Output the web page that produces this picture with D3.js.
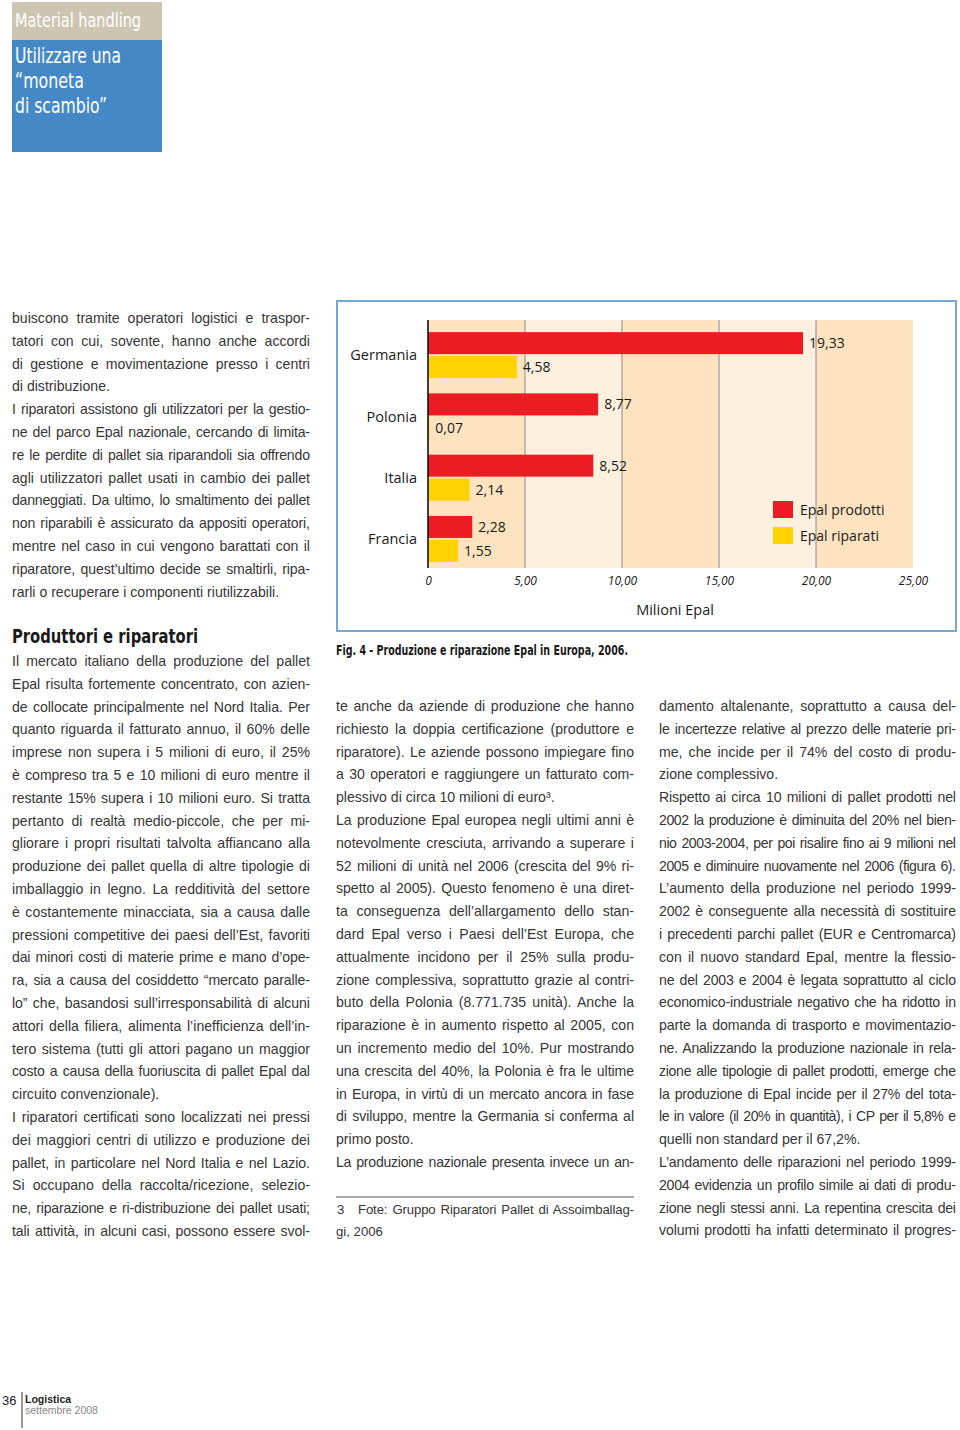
<!DOCTYPE html>
<html><head><meta charset="utf-8">
<script src="https://cdn.jsdelivr.net/npm/d3@7/dist/d3.min.js"></script>
<style>
html,body{margin:0;padding:0;background:#fff;}
svg{display:block;}
</style></head>
<body>
<script>
// ---- chart data ----
const countries = ["Germania", "Polonia", "Italia", "Francia"];
const prodotti = [19.33, 8.77, 8.52, 2.28];
const riparati = [4.58, 0.07, 2.14, 1.55];
const seriesNames = ["Epal prodotti", "Epal riparati"];
const xTicks = [0, 5, 10, 15, 20, 25];
const axisTitle = "Milioni Epal";
const caption = "Fig. 4 - Produzione e riparazione Epal in Europa, 2006.";

// ---- page text ----
const leftTop = [
 "buiscono tramite operatori logistici e traspor-",
 "tatori con cui, sovente, hanno anche accordi",
 "di gestione e movimentazione presso i centri",
 "di distribuzione.",
 "I riparatori assistono gli utilizzatori per la gestio-",
 "ne del parco Epal nazionale, cercando di limita-",
 "re le perdite di pallet sia riparandoli sia offrendo",
 "agli utilizzatori pallet usati in cambio dei pallet",
 "danneggiati. Da ultimo, lo smaltimento dei pallet",
 "non riparabili è assicurato da appositi operatori,",
 "mentre nel caso in cui vengono barattati con il",
 "riparatore, quest’ultimo decide se smaltirli, ripa-",
 "rarli o recuperare i componenti riutilizzabili."
];
const leftTopNat = [3, 12];
const heading = "Produttori e riparatori";
const leftBottom = [
 "Il mercato italiano della produzione del pallet",
 "Epal risulta fortemente concentrato, con azien-",
 "de collocate principalmente nel Nord Italia. Per",
 "quanto riguarda il fatturato annuo, il 60% delle",
 "imprese non supera i 5 milioni di euro, il 25%",
 "è compreso tra 5 e 10 milioni di euro mentre il",
 "restante 15% supera i 10 milioni euro. Si tratta",
 "pertanto di realtà medio-piccole, che per mi-",
 "gliorare i propri risultati talvolta affiancano alla",
 "produzione dei pallet quella di altre tipologie di",
 "imballaggio in legno. La redditività del settore",
 "è costantemente minacciata, sia a causa dalle",
 "pressioni competitive dei paesi dell’Est, favoriti",
 "dai minori costi di materie prime e mano d’ope-",
 "ra, sia a causa del cosiddetto “mercato paralle-",
 "lo” che, basandosi sull’irresponsabilità di alcuni",
 "attori della filiera, alimenta l’inefficienza dell’in-",
 "tero sistema (tutti gli attori pagano un maggior",
 "costo a causa della fuoriuscita di pallet Epal dal",
 "circuito convenzionale).",
 "I riparatori certificati sono localizzati nei pressi",
 "dei maggiori centri di utilizzo e produzione dei",
 "pallet, in particolare nel Nord Italia e nel Lazio.",
 "Si occupano della raccolta/ricezione, selezio-",
 "ne, riparazione e ri-distribuzione dei pallet usati;",
 "tali attività, in alcuni casi, possono essere svol-"
];
const leftBottomNat = [19];
const midCol = [
 "te anche da aziende di produzione che hanno",
 "richiesto la doppia certificazione (produttore e",
 "riparatore). Le aziende possono impiegare fino",
 "a 30 operatori e raggiungere un fatturato com-",
 "plessivo di circa 10 milioni di euro³.",
 "La produzione Epal europea negli ultimi anni è",
 "notevolmente cresciuta, arrivando a superare i",
 "52 milioni di unità nel 2006 (crescita del 9% ri-",
 "spetto al 2005). Questo fenomeno è una diret-",
 "ta conseguenza dell’allargamento dello stan-",
 "dard Epal verso i Paesi dell’Est Europa, che",
 "attualmente incidono per il 25% sulla produ-",
 "zione complessiva, soprattutto grazie al contri-",
 "buto della Polonia (8.771.735 unità). Anche la",
 "riparazione è in aumento rispetto al 2005, con",
 "un incremento medio del 10%. Pur mostrando",
 "una crescita del 40%, la Polonia è fra le ultime",
 "in Europa, in virtù di un mercato ancora in fase",
 "di sviluppo, mentre la Germania si conferma al",
 "primo posto.",
 "La produzione nazionale presenta invece un an-"
];
const midColNat = [4, 19];
const rightCol = [
 "damento altalenante, soprattutto a causa del-",
 "le incertezze relative al prezzo delle materie pri-",
 "me, che incide per il 74% del costo di produ-",
 "zione complessivo.",
 "Rispetto ai circa 10 milioni di pallet prodotti nel",
 "2002 la produzione è diminuita del 20% nel bien-",
 "nio 2003-2004, per poi risalire fino ai 9 milioni nel",
 "2005 e diminuire nuovamente nel 2006 (figura 6).",
 "L’aumento della produzione nel periodo 1999-",
 "2002 è conseguente alla necessità di sostituire",
 "i precedenti parchi pallet (EUR e Centromarca)",
 "con il nuovo standard Epal, mentre la flessio-",
 "ne del 2003 e 2004 è legata soprattutto al ciclo",
 "economico-industriale negativo che ha ridotto in",
 "parte la domanda di trasporto e movimentazio-",
 "ne. Analizzando la produzione nazionale in rela-",
 "zione alle tipologie di pallet prodotti, emerge che",
 "la produzione di Epal incide per il 27% del tota-",
 "le in valore (il 20% in quantità), i CP per il 5,8% e",
 "quelli non standard per il 67,2%.",
 "L’andamento delle riparazioni nel periodo 1999-",
 "2004 evidenzia un profilo simile ai dati di produ-",
 "zione negli stessi anni. La repentina crescita dei",
 "volumi prodotti ha infatti determinato il progres-"
];
const rightColNat = [3, 19];
const footnote = ["Fote: Gruppo Riparatori Pallet di Assoimballag-", "gi, 2006"];

const W = 960, H = 1430;
const svg = d3.select("body").append("svg").attr("width", W).attr("height", H);
svg.append("rect").attr("width", W).attr("height", H).attr("fill", "#fff");

const bodyFont = "'Liberation Sans', Arial, Helvetica, sans-serif";
const narrowFont = "'Liberation Sans Narrow', 'Arial Narrow', 'DejaVu Sans Condensed', sans-serif";
const chartFont = "'Open Sans', 'Noto Sans', sans-serif";
const textColor = "#363636";
const LH = 22.8;

// ---- header ----
svg.append("rect").attr("x", 12).attr("y", 2).attr("width", 150).attr("height", 38).attr("fill", "#cdc5b2");
svg.append("rect").attr("x", 12).attr("y", 40).attr("width", 150).attr("height", 112).attr("fill", "#4588c6");
svg.append("text").attr("x", 15).attr("y", 27).attr("font-family", narrowFont).attr("font-size", 20)
  .attr("fill", "#fff").attr("textLength", 126).attr("lengthAdjust", "spacingAndGlyphs").text("Material handling");
const titleLines = [["Utilizzare una", 106], ["“moneta", 69], ["di scambio”", 92]];
titleLines.forEach((t, i) => {
  svg.append("text").attr("x", 15).attr("y", 63 + i * 25).attr("font-family", narrowFont).attr("font-size", 22)
    .attr("fill", "#fff").attr("textLength", t[1]).attr("lengthAdjust", "spacingAndGlyphs").text(t[0]);
});

// ---- justified columns ----
function justify(t, s, width) {
  const w = t.node().getComputedTextLength();
  const gaps = s.split(" ").length - 1;
  const minW = gaps * 1.5;
  if (w + minW > width) {
    // tighten letters a little, keep small word spacing
    const ls = (width - w - minW) / (s.length - 1);
    t.attr("letter-spacing", ls.toFixed(3)).attr("word-spacing", 1.5);
  } else if (gaps > 0) {
    t.attr("word-spacing", ((width - w) / gaps).toFixed(3));
  }
}
function column(lines, nat, x, y0, width) {
  const g = svg.append("g");
  lines.forEach((s, i) => {
    const t = g.append("text").attr("x", x).attr("y", y0 + i * LH)
      .attr("font-family", bodyFont).attr("font-size", 14.1).attr("fill", textColor).text(s);
    if (nat.indexOf(i) < 0) justify(t, s, width);
  });
}
column(leftTop, leftTopNat, 12, 323, 298);
column(leftBottom, leftBottomNat, 12, 666, 298);
column(midCol, midColNat, 336, 711, 298);
column(rightCol, rightColNat, 659, 711, 297);

svg.append("text").attr("x", 12).attr("y", 643).attr("font-family", narrowFont).attr("font-weight", "bold")
  .attr("font-size", 20).attr("fill", "#1a1a1a").attr("textLength", 186).attr("lengthAdjust", "spacingAndGlyphs").text(heading);

// footnote
svg.append("line").attr("x1", 336).attr("x2", 634).attr("y1", 1197).attr("y2", 1197).attr("stroke", "#555").attr("stroke-width", 1.2);
svg.append("text").attr("x", 337).attr("y", 1214).attr("font-family", bodyFont).attr("font-size", 13.2).attr("fill", textColor).text("3");
(function () {
  const t = svg.append("text").attr("x", 358).attr("y", 1214).attr("font-family", bodyFont).attr("font-size", 13.2)
    .attr("fill", textColor).text(footnote[0]);
  justify(t, footnote[0], 634 - 358);
  svg.append("text").attr("x", 336).attr("y", 1236).attr("font-family", bodyFont).attr("font-size", 13.2)
    .attr("fill", textColor).text(footnote[1]);
})();

// caption
svg.append("text").attr("x", 336).attr("y", 655).attr("font-family", narrowFont).attr("font-weight", "bold")
  .attr("font-size", 13.5).attr("fill", "#1a1a1a").attr("textLength", 292).attr("lengthAdjust", "spacingAndGlyphs").text(caption);

// footer
svg.append("text").attr("x", 2).attr("y", 1405).attr("font-family", bodyFont).attr("font-size", 13).attr("fill", "#222").text("36");
svg.append("line").attr("x1", 22).attr("x2", 22).attr("y1", 1392).attr("y2", 1428).attr("stroke", "#333").attr("stroke-width", 1);
svg.append("text").attr("x", 25).attr("y", 1403).attr("font-family", bodyFont).attr("font-weight", "bold").attr("font-size", 10.5).attr("fill", "#222").text("Logistica");
svg.append("text").attr("x", 25).attr("y", 1414).attr("font-family", bodyFont).attr("font-size", 10.5).attr("fill", "#888").text("settembre 2008");

// ---- chart ----
svg.append("rect").attr("x", 337).attr("y", 301).attr("width", 619).attr("height", 330)
  .attr("fill", "#fff").attr("stroke", "#76a8d4").attr("stroke-width", 2);

const plotTop = 320, plotBottom = 568;
const x = d3.scaleLinear().domain([0, 25]).range([428, 913]);
const y = d3.scaleBand().domain(countries).range([326, plotBottom]).paddingInner(0.25).paddingOuter(0.1);
const ySub = d3.scaleBand().domain(seriesNames).range([0, y.bandwidth()]).paddingInner(0.08);
const colors = d3.scaleOrdinal().domain(seriesNames).range(["#ed1c24", "#ffd200"]);
const it = d3.formatLocale({decimal: ",", thousands: ".", grouping: [3], currency: ["€", ""]});
const fmt2 = it.format(".2f");

const chart = svg.append("g");
// stripes
const stripes = d3.pairs(xTicks);
chart.selectAll("rect.stripe").data(stripes).join("rect").attr("class", "stripe")
  .attr("x", d => x(d[0])).attr("width", d => x(d[1]) - x(d[0]))
  .attr("y", plotTop).attr("height", plotBottom - plotTop)
  .attr("fill", (d, i) => i % 2 === 0 ? "#fde3bf" : "#fdf0df");
// gridlines
chart.selectAll("line.grid").data(xTicks.slice(1, -1)).join("line").attr("class", "grid")
  .attr("x1", d => x(d)).attr("x2", d => x(d)).attr("y1", plotTop).attr("y2", plotBottom)
  .attr("stroke", "#8c8a86").attr("stroke-width", 1);

// bars
const rows = countries.map((c, i) => ({country: c, vals: [
  {s: seriesNames[0], v: prodotti[i]}, {s: seriesNames[1], v: riparati[i]}]}));
const grp = chart.selectAll("g.row").data(rows).join("g").attr("class", "row")
  .attr("transform", d => `translate(0,${y(d.country)})`);
grp.selectAll("rect").data(d => d.vals).join("rect")
  .attr("x", x(0)).attr("y", d => ySub(d.s)).attr("height", ySub.bandwidth())
  .attr("width", d => x(d.v) - x(0)).attr("fill", d => colors(d.s));
grp.selectAll("text").data(d => d.vals).join("text")
  .attr("x", d => x(d.v) + 6).attr("y", d => ySub(d.s) + ySub.bandwidth() / 2).attr("dy", "0.36em")
  .attr("font-family", chartFont).attr("font-size", 14).attr("fill", "#1a1a1a").text(d => fmt2(d.v));

// axis line
chart.append("line").attr("x1", x(0)).attr("x2", x(0)).attr("y1", plotTop).attr("y2", plotBottom)
  .attr("stroke", "#111").attr("stroke-width", 1.6);

// country labels
chart.selectAll("text.country").data(countries).join("text").attr("class", "country")
  .attr("x", 417).attr("y", d => y(d) + y.bandwidth() / 2).attr("dy", "0.36em").attr("text-anchor", "end")
  .attr("font-family", chartFont).attr("font-size", 14.5).attr("fill", "#1a1a1a").text(d => d);

// x axis ticks
const xAxis = d3.axisBottom(x).tickValues(xTicks).tickSize(0).tickPadding(0)
  .tickFormat(d => d === 0 ? "0" : fmt2(d));
const ax = chart.append("g").attr("transform", `translate(0,${plotBottom + 8})`).call(xAxis);
ax.select(".domain").remove();
ax.selectAll("text").attr("font-family", chartFont).attr("font-style", "italic").attr("font-size", 12).attr("fill", "#1a1a1a");

chart.append("text").attr("x", 675).attr("y", 615).attr("text-anchor", "middle")
  .attr("font-family", chartFont).attr("font-size", 14.5).attr("fill", "#1a1a1a").text(axisTitle);

// legend
const leg = chart.selectAll("g.leg").data(seriesNames).join("g").attr("class", "leg")
  .attr("transform", (d, i) => `translate(773,${501 + i * 26})`);
leg.append("rect").attr("width", 20).attr("height", 17).attr("fill", d => colors(d));
leg.append("text").attr("x", 27).attr("y", 8.5).attr("dy", "0.36em").attr("font-family", chartFont)
  .attr("font-size", 14).attr("fill", "#1a1a1a").text(d => d);
</script>
</body></html>
